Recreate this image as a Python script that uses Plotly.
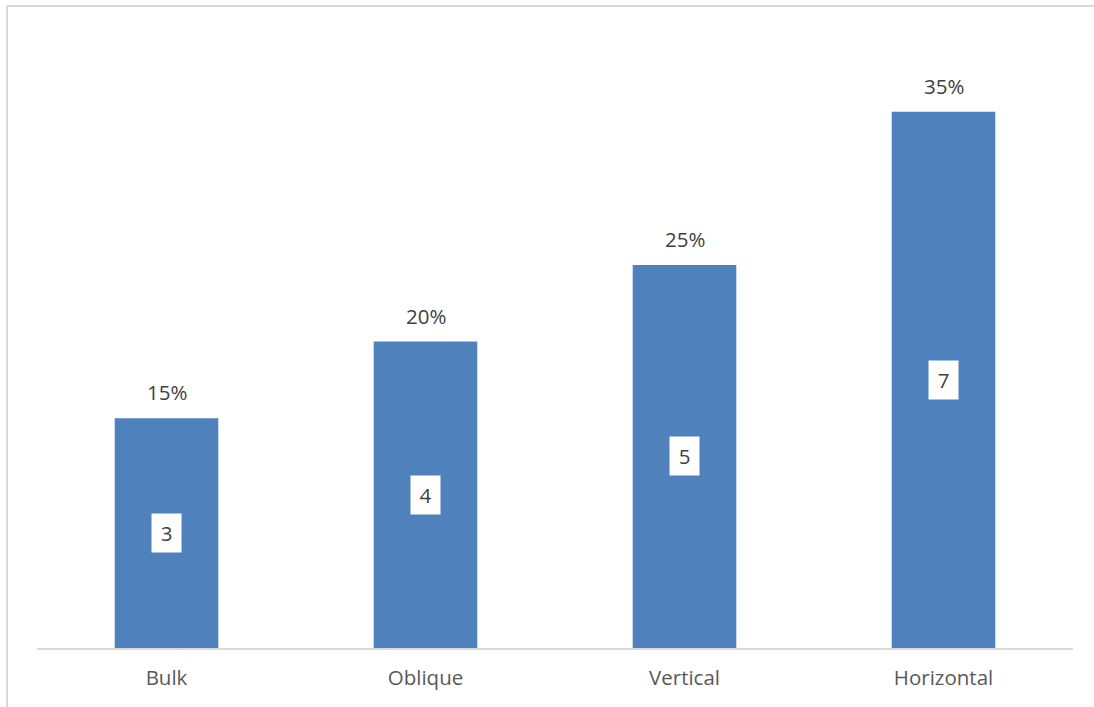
import plotly.graph_objects as go

categories = ["Bulk", "Oblique", "Vertical", "Horizontal"]
counts = [3, 4, 5, 7]
percent_labels = ["15%", "20%", "25%", "35%"]

bar_color = "#4f81bd"
text_color = "#404040"
font_family = "Open Sans, Liberation Sans, sans-serif"

W, H = 1094, 707
ml, mr, mt, mb = 37, 21, 22, 59
ymax = 8.17

fig = go.Figure()
fig.add_trace(go.Bar(
    x=categories, y=counts, marker=dict(color=bar_color, line=dict(width=0)),
    hoverinfo="skip", showlegend=False,
))

annotations = []
for c, v, p in zip(categories, counts, percent_labels):
    annotations.append(dict(
        x=c, y=v / 2, xref="x", yref="y", text=str(v), showarrow=False,
        bgcolor="white", font=dict(size=20.5, color=text_color, family=font_family),
        borderpad=5, width=19, height=28,
    ))
    annotations.append(dict(
        x=c, y=v, xref="x", yref="y", text=p, showarrow=False, yshift=26,
        font=dict(size=20.5, color=text_color, family=font_family),
    ))

pw = W - ml - mr
ph = H - mt - mb
def px_to_paper_x(px):
    return (px - ml) / pw
def px_to_paper_y(py):
    return (H - mb - py) / ph

shapes = [
    dict(type="line", xref="paper", yref="paper",
         x0=px_to_paper_x(7), x1=px_to_paper_x(7),
         y0=px_to_paper_y(6), y1=px_to_paper_y(H + 2),
         line=dict(color="#d9d9d9", width=2)),
    dict(type="line", xref="paper", yref="paper",
         x0=px_to_paper_x(7), x1=px_to_paper_x(W + 2),
         y0=px_to_paper_y(6), y1=px_to_paper_y(6),
         line=dict(color="#d9d9d9", width=2)),
]

fig.update_layout(
    width=W, height=H,
    margin=dict(l=ml, r=mr, t=mt, b=mb, pad=0),
    paper_bgcolor="white", plot_bgcolor="white",
    bargap=0.6,
    annotations=annotations,
    shapes=shapes,
    font=dict(family=font_family, color=text_color),
    xaxis=dict(
        showline=True, linecolor="#d9d9d9", linewidth=1.5,
        showgrid=False, ticks="", tickfont=dict(size=20.5, color="#595959", family=font_family),
        ticklabelstandoff=11,
    ),
    yaxis=dict(
        range=[0, ymax], visible=False, showgrid=False, zeroline=False,
    ),
)

fig.write_html("out.html")
